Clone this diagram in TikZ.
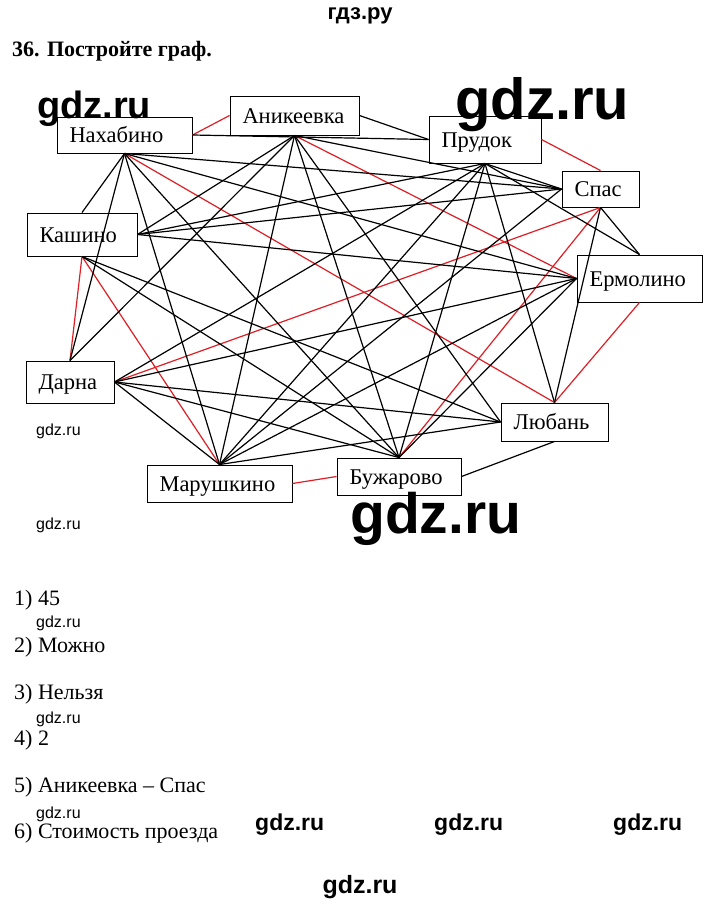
\documentclass[tikz,border=0pt]{standalone}
\usepackage{fontspec}
\setmainfont{Liberation Serif}
\newfontfamily\wmfont{Liberation Sans}
\definecolor{edgered}{RGB}{222,30,36}
\begin{document}
\begin{tikzpicture}[x=1pt,y=-1pt,
  box/.style={draw, line width=0.95pt, fill=white, inner xsep=12.5pt, inner ysep=0pt,
    align=left, font=\fontsize{22.5}{22.5}\selectfont, text height=16.5pt, text depth=1.5pt},
  edge/.style={line width=1.2pt, black},
  redge/.style={line width=1.2pt, draw=edgered},
  txt/.style={anchor=base west, inner sep=0pt, font=\fontsize{22}{22}\selectfont},
  wm/.style={anchor=base west, inner sep=0pt, font=\wmfont\bfseries\fontsize{#1}{#1}\selectfont},
  wmsmall/.style={anchor=base west, inner sep=0pt, font=\wmfont\fontsize{16}{16}\selectfont}
]
\useasboundingbox (0,0) rectangle (720,905);

% header and title
\node[anchor=base, inner sep=0pt, font=\wmfont\bfseries\fontsize{22}{22}\selectfont] (hdr) at (360,19) {гдз.ру};
\node[txt, font=\bfseries\fontsize{22}{22}\selectfont] (title) at (12,56) {36. Постройте граф.};

% vertices
\node[box, minimum width=135pt, minimum height=36pt, text width=110pt] (N) at (124.5,135) {Нахабино};
\node[box, minimum width=129pt, minimum height=39pt, text width=104pt] (A) at (294.5,115.5) {Аникеевка};
\node[box, minimum width=112pt, minimum height=47pt, text width=87pt] (P) at (485,139.5) {Прудок};
\node[box, minimum width=77pt, minimum height=36pt, text width=52pt] (S) at (600.5,189) {Спас};
\node[box, minimum width=125pt, minimum height=47pt, text width=100pt] (E) at (639.5,278.5) {Ермолино};
\node[box, minimum width=110pt, minimum height=43pt, text width=85pt] (K) at (82,234.5) {Кашино};
\node[box, minimum width=88pt, minimum height=42pt, text width=63pt] (D) at (70,382) {Дарна};
\node[box, minimum width=145pt, minimum height=37pt, text width=120pt] (M) at (219.5,483.5) {Марушкино};
\node[box, minimum width=124pt, minimum height=37pt, text width=99pt] (B) at (399,476.5) {Бужарово};
\node[box, minimum width=107pt, minimum height=38pt, text width=82pt] (L) at (554.5,422) {Любань};

% red edges
\draw[redge] (N.east) -- (A.west);
\draw[redge] (N.south) -- (L.north);
\draw[redge] (A.south) -- (E.west);
\draw[redge] (P.east) -- (S.north);
\draw[redge] (S.south) -- (D.east);
\draw[redge] (S.south) -- (B.north);
\draw[redge] (E.south) -- (L.north);
\draw[redge] (K.south) -- (D.north);
\draw[redge] (K.south) -- (M.north);
\draw[redge] (B.west) -- (M.east);

% black edges
\draw[edge] (N.east) -- (P.west);
\draw[edge] (N.south) -- (S.west);
\draw[edge] (N.south) -- (E.west);
\draw[edge] (N.south) -- (K.north);
\draw[edge] (N.south) -- (D.north);
\draw[edge] (N.south) -- (B.north);
\draw[edge] (N.south) -- (M.north);
\draw[edge] (A.east) -- (P.west);
\draw[edge] (A.south) -- (S.west);
\draw[edge] (A.south) -- (K.east);
\draw[edge] (A.south) -- (D.north);
\draw[edge] (A.south) -- (L.west);
\draw[edge] (A.south) -- (B.north);
\draw[edge] (A.south) -- (M.north);
\draw[edge] (P.south) -- (E.north);
\draw[edge] (P.south) -- (S.west);
\draw[edge] (P.south) -- (K.east);
\draw[edge] (P.south) -- (D.east);
\draw[edge] (P.south) -- (L.north);
\draw[edge] (P.south) -- (B.north);
\draw[edge] (P.south) -- (M.north);
\draw[edge] (S.south) -- (E.north);
\draw[edge] (S.west) -- (K.east);
\draw[edge] (S.south) -- (L.north);
\draw[edge] (S.west) -- (M.north);
\draw[edge] (E.west) -- (K.east);
\draw[edge] (E.west) -- (D.east);
\draw[edge] (E.west) -- (B.north);
\draw[edge] (E.west) -- (M.north);
\draw[edge] (K.south) -- (L.west);
\draw[edge] (K.south) -- (B.north);
\draw[edge] (D.east) -- (L.west);
\draw[edge] (D.east) -- (B.north);
\draw[edge] (D.east) -- (M.north);
\draw[edge] (L.south) -- (B.east);
\draw[edge] (L.west) -- (M.north);

% answers
\node[txt] (a1) at (14,605) {1) 45};
\node[txt] (a2) at (14,652) {2) Можно};
\node[txt] (a3) at (14,699) {3) Нельзя};
\node[txt] (a4) at (14,745) {4) 2};
\node[txt] (a5) at (14,792) {5) Аникеевка – Спас};
\node[txt] (a6) at (14,838) {6) Стоимость проезда};

% watermarks
\node[wm=38] (w1) at (37,118) {gdz.ru};
\node[wm=58] (w2) at (455,119) {gdz.ru};
\node[wm=57] (w3) at (350,533) {gdz.ru};
\node[wmsmall] (s1) at (36,435) {gdz.ru};
\node[wmsmall] (s2) at (36,529) {gdz.ru};
\node[wmsmall] (s3) at (36,627) {gdz.ru};
\node[wmsmall] (s4) at (36,723) {gdz.ru};
\node[wmsmall] (s5) at (36,818) {gdz.ru};
\node[wm=23] (b1) at (255,830) {gdz.ru};
\node[wm=23] (b2) at (434,830) {gdz.ru};
\node[wm=23] (b3) at (613,830) {gdz.ru};
\node[wm=25, anchor=base] (b4) at (360,893) {gdz.ru};
\end{tikzpicture}
\end{document}
